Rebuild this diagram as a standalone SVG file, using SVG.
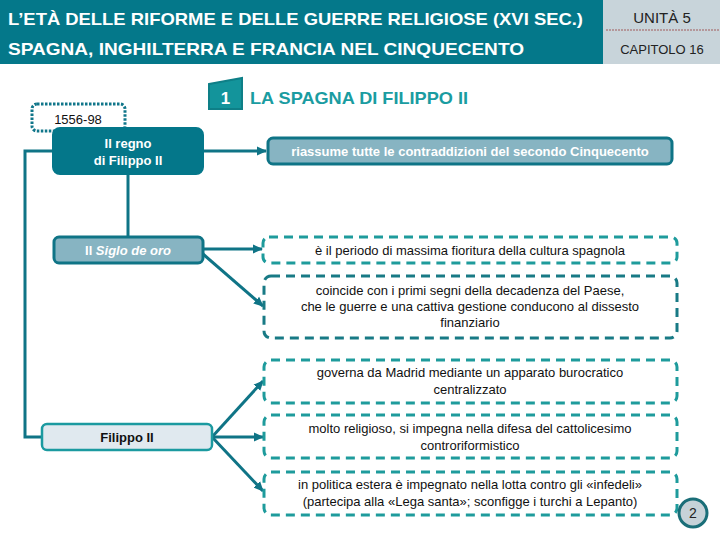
<svg xmlns="http://www.w3.org/2000/svg" width="720" height="540" viewBox="0 0 720 540">
<defs>
<marker id="arr" markerUnits="userSpaceOnUse" markerWidth="10" markerHeight="10" viewBox="0 0 10 10" refX="9" refY="5" orient="auto">
<path d="M0,0.5 L10,5 L0,9.5 Z" fill="#0f7486"/>
</marker>
<style>
.hdr{font-family:"Liberation Sans",Arial,sans-serif;font-weight:bold;font-size:17px;fill:#ffffff}
.side{font-family:"Liberation Sans",Arial,sans-serif;fill:#222222}
.conn{stroke:#0f7486;stroke-width:3;fill:none}
.dark{fill:#04778a;stroke:#04778a;stroke-width:2}
.mid{fill:#87b4c2;stroke:#0f7486;stroke-width:3}
.light{fill:#e0e9ef;stroke:#1b9aa0;stroke-width:2.5}
.dash{fill:#ffffff;stroke:#1e9b9c;stroke-width:3;stroke-dasharray:9 6}
.dash2{fill:#ffffff;stroke:#187a85;stroke-width:3;stroke-dasharray:9 6}
.wt{font-family:"Liberation Sans",Arial,sans-serif;font-weight:bold;font-size:13px;fill:#ffffff;text-anchor:middle}
.bt{font-family:"Liberation Sans",Arial,sans-serif;font-size:13px;fill:#111111;text-anchor:middle}
</style>
</defs>
<rect width="720" height="540" fill="#ffffff"/>
<g id="header">
<rect x="0" y="0" width="603" height="64" fill="#04788a"/>
<rect x="603" y="0" width="117" height="64" fill="#c8d4da"/>
<line x1="606" y1="30" x2="720" y2="30" stroke="#a05a5a" stroke-width="1" stroke-dasharray="2 1"/>
<text class="hdr" x="8" y="25" textLength="575" lengthAdjust="spacingAndGlyphs">L’ETÀ DELLE RIFORME E DELLE GUERRE RELIGIOSE (XVI SEC.)</text>
<text class="hdr" x="8" y="55" textLength="516" lengthAdjust="spacingAndGlyphs">SPAGNA, INGHILTERRA E FRANCIA NEL CINQUECENTO</text>
<text class="side" x="662" y="23" font-size="15" text-anchor="middle">UNITÀ 5</text>
<text class="side" x="662" y="54" font-size="13" text-anchor="middle">CAPITOLO 16</text>
</g>
<g id="section-title">
<polygon points="209,84 242,78 242,109 209,109" fill="#13949b" stroke="#0e7f87" stroke-width="2"/>
<text x="225.5" y="104" font-family="'Liberation Sans',Arial,sans-serif" font-weight="bold" font-size="17" fill="#ffffff" text-anchor="middle">1</text>
<text x="250" y="104" font-family="'Liberation Sans',Arial,sans-serif" font-weight="bold" font-size="17" fill="#1a9ca1" textLength="218" lengthAdjust="spacingAndGlyphs">LA SPAGNA DI FILIPPO II</text>
</g>
<g id="connectors">
<path class="conn" d="M52,151 H25 V437 H41"/>
<line class="conn" x1="203" y1="151" x2="266" y2="151" marker-end="url(#arr)"/>
<line class="conn" x1="128" y1="174" x2="128" y2="237"/>
<line class="conn" x1="203" y1="249" x2="262" y2="249" marker-end="url(#arr)"/>
<line class="conn" x1="203" y1="254" x2="263" y2="306" marker-end="url(#arr)"/>
<line class="conn" x1="212" y1="437" x2="263" y2="381" marker-end="url(#arr)"/>
<line class="conn" x1="212" y1="437" x2="263" y2="437" marker-end="url(#arr)"/>
<line class="conn" x1="212" y1="437" x2="263" y2="491" marker-end="url(#arr)"/>
</g>
<g id="date">
<rect x="32" y="104" width="93" height="27" rx="5" fill="#ffffff" stroke="#10768a" stroke-width="3" stroke-dasharray="2.5 1.5"/>
<text x="78" y="124" font-family="'Liberation Sans',Arial,sans-serif" font-size="13" fill="#111111" text-anchor="middle">1556-98</text>
</g>
<g id="regno">
<rect class="dark" x="53" y="128" width="150" height="46" rx="7"/>
<text class="wt" x="128" y="148">Il regno</text>
<text class="wt" x="128" y="165">di Filippo II</text>
</g>
<g id="siglo">
<rect class="mid" x="54" y="237" width="149" height="26" rx="5"/>
<text class="wt" x="128" y="255">Il <tspan font-style="italic">Siglo de oro</tspan></text>
</g>
<g id="filippo">
<rect class="light" x="42" y="424" width="170" height="26" rx="5"/>
<text x="127" y="442" font-family="'Liberation Sans',Arial,sans-serif" font-weight="bold" font-size="13" fill="#111111" text-anchor="middle">Filippo II</text>
</g>
<g id="riassume">
<rect class="mid" x="268" y="138" width="404" height="26" rx="5"/>
<text class="wt" x="470" y="156">riassume tutte le contraddizioni del secondo Cinquecento</text>
</g>
<g id="periodo">
<rect class="dash" x="263" y="237" width="414" height="26" rx="6"/>
<text class="bt" x="470" y="255">è il periodo di massima fioritura della cultura spagnola</text>
</g>
<g id="coincide">
<rect class="dash2" x="264" y="276" width="413" height="62" rx="7"/>
<text class="bt" x="470" y="295">coincide con i primi segni della decadenza del Paese,</text>
<text class="bt" x="470" y="311">che le guerre e una cattiva gestione conducono al dissesto</text>
<text class="bt" x="470" y="327">finanziario</text>
</g>
<g id="governa">
<rect class="dash" x="264" y="360" width="413" height="43" rx="7"/>
<text class="bt" x="470" y="377">governa da Madrid mediante un apparato burocratico</text>
<text class="bt" x="470" y="394">centralizzato</text>
</g>
<g id="religioso">
<rect class="dash" x="264" y="415" width="413" height="43" rx="7"/>
<text class="bt" x="470" y="433">molto religioso, si impegna nella difesa del cattolicesimo</text>
<text class="bt" x="470" y="450">controriformistico</text>
</g>
<g id="politica">
<rect class="dash" x="264" y="472" width="413" height="43" rx="7"/>
<text class="bt" x="470" y="489">in politica estera è impegnato nella lotta contro gli «infedeli»</text>
<text class="bt" x="470" y="506">(partecipa alla «Lega santa»; sconfigge i turchi a Lepanto)</text>
</g>
<g id="page">
<circle cx="693" cy="513" r="14" fill="#c6d2d8" stroke="#1a6e78" stroke-width="3"/>
<text x="693" y="518" font-family="'Liberation Sans',Arial,sans-serif" font-size="14" fill="#222222" text-anchor="middle">2</text>
</g>
</svg>
